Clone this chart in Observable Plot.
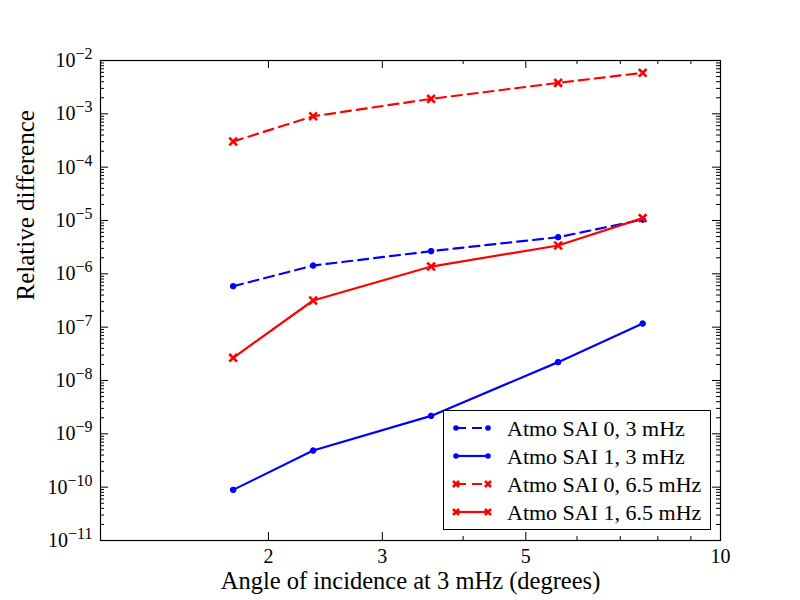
<!DOCTYPE html>
<html>
<head>
<meta charset="utf-8">
<script src="https://cdn.jsdelivr.net/npm/d3@7"></script>
<script src="https://cdn.jsdelivr.net/npm/@observablehq/plot@0.6"></script>
<style>
  body { margin: 0; background: #fff; }
  #wrap { position: relative; width: 800px; height: 600px; font-family: "Liberation Serif", serif; }
  #legend { position: absolute; left: 443px; top: 410px; width: 268px; height: 120px;
            border: 1.2px solid #000; background: #fff; box-sizing: border-box; }
  .row { position: absolute; left: 0; height: 28px; width: 100%; }
  .row svg { position: absolute; left: 6px; top: 0; }
  .row span { position: absolute; left: 63px; top: 2px; font-size: 22px; line-height: 24px; white-space: nowrap; color: #000; }
</style>
</head>
<body>
<div id="wrap"></div>
<script>
// ---- data ----
const angles      = [1.764, 2.345, 3.569, 5.61, 7.58];
const sai0_3mHz   = [5.86e-7, 1.43e-6, 2.66e-6, 4.86e-6, 1.04e-5];
const sai1_3mHz   = [8.9e-11, 4.86e-10, 2.17e-9, 2.21e-8, 1.17e-7];
const sai0_65mHz  = [3.03e-4, 9.0e-4, 1.91e-3, 3.81e-3, 5.87e-3];
const sai1_65mHz  = [2.66e-8, 3.16e-7, 1.37e-6, 3.40e-6, 1.11e-5];
const seriesNames = ["Atmo SAI 0, 3 mHz", "Atmo SAI 1, 3 mHz", "Atmo SAI 0, 6.5 mHz", "Atmo SAI 1, 6.5 mHz"];
const seriesColors = ["#0000ff", "#0000ff", "#ff0000", "#ff0000"];
const seriesDashed = [true, false, true, false];
const seriesMarker = ["dot", "dot", "cross", "cross"];
const xTickLabels = [2, 3, 5, 10];
const xMinorTicks = [4, 6, 7, 8, 9];
const yExponents  = [-11, -10, -9, -8, -7, -6, -5, -4, -3, -2];
const xLabel = "Angle of incidence at 3 mHz (degrees)";
const yLabel = "Relative difference";

const seriesValues = [sai0_3mHz, sai1_3mHz, sai0_65mHz, sai1_65mHz];
const rows = seriesNames.flatMap((name, i) => angles.map((a, j) => ({series: name, idx: i, x: a, y: seriesValues[i][j]})));

const yMajor = yExponents.map(e => Math.pow(10, e));
const yMinor = yExponents.slice(0, -1).flatMap(e => [2,3,4,5,6,7,8,9].map(m => m * Math.pow(10, e)));

const FONT = "'Liberation Serif', serif";
const W = 800, H = 600, mL = 100, mR = 80, mT = 60, mB = 60;
const fw = W - mL - mR, fh = H - mT - mB;
const majorLen = 8, minorLen = 4;

const marks = [];
// ticks (inward, all four sides)
marks.push(Plot.tickX(xTickLabels, {x: d => d, insetTop: fh - majorLen, stroke: "#000"}));
marks.push(Plot.tickX(xTickLabels, {x: d => d, insetBottom: fh - majorLen, stroke: "#000"}));
marks.push(Plot.tickX(xMinorTicks, {x: d => d, insetTop: fh - minorLen, stroke: "#000"}));
marks.push(Plot.tickX(xMinorTicks, {x: d => d, insetBottom: fh - minorLen, stroke: "#000"}));
marks.push(Plot.tickY(yMajor, {y: d => d, insetRight: fw - majorLen, stroke: "#000"}));
marks.push(Plot.tickY(yMajor, {y: d => d, insetLeft: fw - majorLen, stroke: "#000"}));
marks.push(Plot.tickY(yMinor, {y: d => d, insetRight: fw - minorLen, stroke: "#000"}));
marks.push(Plot.tickY(yMinor, {y: d => d, insetLeft: fw - minorLen, stroke: "#000"}));

// series
seriesNames.forEach((name, i) => {
  const d = rows.filter(r => r.idx === i);
  marks.push(Plot.line(d, {x: "x", y: "y", stroke: seriesColors[i], strokeWidth: 2.2,
    strokeDasharray: seriesDashed[i] ? "10,6" : null}));
  if (seriesMarker[i] === "dot") {
    marks.push(Plot.dot(d, {x: "x", y: "y", r: 2.8, fill: seriesColors[i], stroke: seriesColors[i], strokeWidth: 1}));
  } else {
    marks.push(Plot.dot(d, {x: "x", y: "y", r: 3.6, symbol: "times", stroke: seriesColors[i], strokeWidth: 2.6}));
  }
});

// axes
marks.push(Plot.axisX(xTickLabels, {tickSize: 0, tickPadding: 8, tickFormat: d => String(d), fontSize: 20, label: null}));
marks.push(Plot.axisY(yMajor, {tickSize: 0, tickPadding: 8, fontSize: 20, label: null,
  tickFormat: d => "10^" + Math.round(Math.log10(d))}));
marks.push(Plot.frame({stroke: "#000", strokeWidth: 1.2}));
// axis titles
marks.push(Plot.text([xLabel], {text: d => d, frameAnchor: "bottom", dy: 48, lineAnchor: "bottom", fontSize: 24.5, fill: "#000"}));
marks.push(Plot.text([yLabel], {text: d => d, frameAnchor: "left", dx: -75, rotate: -90, fontSize: 25, fill: "#000"}));

const chart = Plot.plot({
  width: W, height: H, marginLeft: mL, marginRight: mR, marginTop: mT, marginBottom: mB,
  style: {fontFamily: FONT, fontSize: "20px", background: "#fff", color: "#000", overflow: "visible"},
  x: {type: "log", domain: [1.1, 10]},
  y: {type: "log", domain: [1e-11, 1e-2]},
  marks
});

// superscript exponents on y tick labels
d3.select(chart).selectAll('g[aria-label="y-axis tick label"] text').each(function() {
  const t = this.textContent;
  const m = t.match(/^10\^(-?\d+)$/);
  if (!m) return;
  const sel = d3.select(this);
  sel.text(null);
  sel.append("tspan").text("10");
  sel.append("tspan").attr("font-size", "16px").attr("dy", "-8").text(m[1].replace("-", "\u2212"));
});

const wrap = document.getElementById("wrap");
wrap.appendChild(chart);

// legend (inside plot area, lower right)
const legend = document.createElement("div");
legend.id = "legend";
seriesNames.forEach((name, i) => {
  const row = document.createElement("div");
  row.className = "row";
  row.style.top = (4 + i * 28) + "px";
  const svgNS = "http://www.w3.org/2000/svg";
  const s = document.createElementNS(svgNS, "svg");
  s.setAttribute("width", "46"); s.setAttribute("height", "28");
  const ln = document.createElementNS(svgNS, "line");
  ln.setAttribute("x1", "6"); ln.setAttribute("x2", "38"); ln.setAttribute("y1", "13"); ln.setAttribute("y2", "13");
  ln.setAttribute("stroke", seriesColors[i]); ln.setAttribute("stroke-width", "2.2");
  if (seriesDashed[i]) ln.setAttribute("stroke-dasharray", "10,6");
  s.appendChild(ln);
  [6, 38].forEach(cx => {
    if (seriesMarker[i] === "dot") {
      const c = document.createElementNS(svgNS, "circle");
      c.setAttribute("cx", cx); c.setAttribute("cy", 13); c.setAttribute("r", 2.8);
      c.setAttribute("fill", seriesColors[i]);
      s.appendChild(c);
    } else {
      const p = document.createElementNS(svgNS, "path");
      const r = 3;
      p.setAttribute("d", `M${cx-r},${13-r}L${cx+r},${13+r}M${cx-r},${13+r}L${cx+r},${13-r}`);
      p.setAttribute("stroke", seriesColors[i]); p.setAttribute("stroke-width", "2.6");
      s.appendChild(p);
    }
  });
  row.appendChild(s);
  const sp = document.createElement("span");
  sp.textContent = name;
  row.appendChild(sp);
  legend.appendChild(row);
});
wrap.appendChild(legend);
</script>
</body>
</html>
